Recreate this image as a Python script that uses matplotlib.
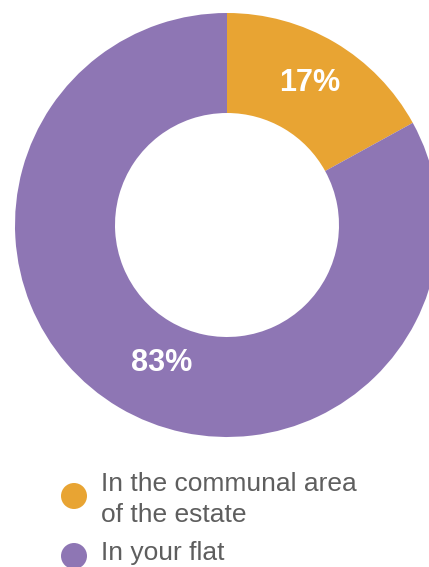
import matplotlib.pyplot as plt
from matplotlib.patches import Circle

# Data
labels = ["In the communal area\nof the estate", "In your flat"]
values = [17, 83]
colors = ["#E8A433", "#8E76B4"]
pct_text = ["17%", "83%"]

W, H = 429, 567
fig = plt.figure(figsize=(W / 100, H / 100), dpi=100)
ax = fig.add_axes([0, 0, 1, 1])

# Donut (y axis inverted, so counterclock=True reads clockwise on screen)
cx, cy, R, width = 227, 225, 212, 100
ax.pie(values, colors=colors, startangle=-90, counterclock=True,
       center=(cx, cy), radius=R, wedgeprops=dict(width=width, linewidth=0),
       frame=True)
ax.set_xlim(0, W)
ax.set_ylim(H, 0)
ax.set_aspect("equal")
ax.axis("off")

# Percent labels
label_pos = [(310, 83), (162, 363)]
for (x, y), t in zip(label_pos, pct_text):
    ax.text(x, y, t, color="white", fontsize=22, fontweight="bold",
            family="Liberation Sans", ha="center", va="center")

# Legend
legend_y = [496, 556]
for y, lab, col in zip(legend_y, labels, colors):
    ax.add_patch(Circle((74, y), 13, color=col, linewidth=0))
text_top = [472, 541]
for y, lab in zip(text_top, labels):
    ax.text(101, y, lab, color="#5E5E5E", fontsize=19, family="Liberation Sans",
            ha="left", va="top", linespacing=1.36)

fig.savefig("out.png", dpi=100)
